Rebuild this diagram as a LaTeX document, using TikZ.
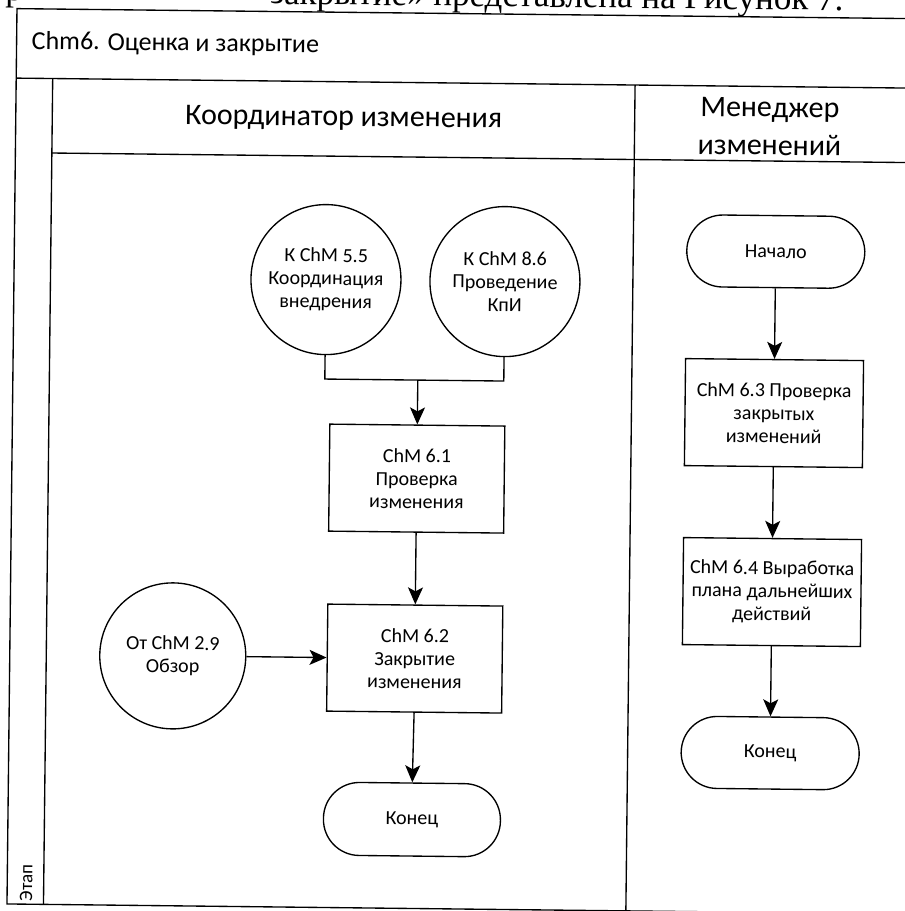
\documentclass[tikz,border=0pt]{standalone}
\usepackage{fontspec}
\setmainfont{Carlito}
\newfontfamily\bodyserif{Liberation Serif}
\usetikzlibrary{arrows.meta}
\begin{document}
\begin{tikzpicture}[x=1pt,y=-1pt,
  frame/.style={line width=1.35pt},
  nodefont/.style={font=\fontsize{20}{23}\selectfont},
  procbox/.style={draw, line width=1.35pt, rectangle, minimum width=175pt,
    minimum height=107pt, align=center, inner sep=2pt, nodefont},
  termbox/.style={draw, line width=1.35pt, rectangle, rounded corners=36pt,
    minimum width=178pt, minimum height=72pt, nodefont},
  refcirc/.style={draw, line width=1.35pt, circle, minimum size=150pt,
    inner sep=0pt, align=center, nodefont},
  flow/.style={line width=1.35pt, -{Stealth[length=17pt,width=15pt,inset=4pt]}},
  link/.style={line width=1.35pt}]
\useasboundingbox (0,0) rectangle (905,911);
\begin{scope}[rotate around={-0.64:(452.5,455.5)}, transform shape]
  % running text line above the figure
  \node[anchor=base west, inner sep=0pt, font=\bodyserif\fontsize{35}{40}\selectfont]
    (leadA) at (0,6) {р};
  \node[anchor=base west, inner sep=0pt, font=\bodyserif\fontsize{35}{40}\selectfont]
    (leadB) at (265,6) {закрытие» представлена на Рисунок 7.};

  % pool frame, title band and lanes
  \coordinate (tl) at (12,13.5);
  \coordinate (tr) at (930,13.5);
  \coordinate (bl) at (12,909);
  \coordinate (br) at (930,909);
  \draw[frame] (tr) -- (tl) -- (bl) -- (br);
  \coordinate (ttl) at (12,83);
  \coordinate (ttr) at (930,83);
  \draw[frame] (ttl) -- (ttr);
  \coordinate (phT) at (48.5,83);
  \coordinate (phB) at (48.5,909);
  \draw[frame] (phT) -- (phB);
  \coordinate (hdL) at (48.5,157.5);
  \coordinate (hdR) at (930,157.5);
  \draw[frame] (hdL) -- (hdR);
  \coordinate (lnT) at (631,83);
  \coordinate (lnB) at (631,909);
  \draw[frame] (lnT) -- (lnB);

  \node[anchor=west, inner sep=0pt, font=\fontsize{26}{30}\selectfont]
    (title) at (27,47) {Chm6. Оценка и закрытие};
  \node[font=\fontsize{30}{38}\selectfont] (laneA) at (340,120) {Координатор изменения};
  \node[font=\fontsize{30}{38}\selectfont, align=center] (laneB) at (766,123)
    {Менеджер\\изменений};
  \node[rotate=90, anchor=west, inner sep=0pt, font=\fontsize{19}{22}\selectfont]
    (phase) at (31,906) {Этап};

  % coordinator lane
  \node[refcirc] (c1) at (324,281) {К ChM 5.5\\Координация\\внедрения};
  \node[refcirc] (c2) at (503,281) {К ChM 8.6\\Проведение\\КпИ};
  \node[procbox] (b61) at (417,479) {ChM 6.1\\Проверка\\изменения};
  \node[procbox] (b62) at (417,659) {ChM 6.2\\Закрытие\\изменения};
  \node[refcirc, minimum size=146pt] (c3) at (175,659) {От ChM 2.9\\Обзор};
  \node[termbox, minimum width=177pt, minimum height=73pt] (e1) at (416,820) {Конец};

  \coordinate (jn) at (417,380.5);
  \draw[link] (c1.south) -- (c1.south |- jn) -- (c2.south |- jn) -- (c2.south);
  \draw[flow] (jn) -- (b61.north);
  \draw[flow] (b61.south) -- (b62.north);
  \draw[flow] (c3.east) -- (b62.west);
  \draw[flow] (b62.south) -- (e1.north);

  % manager lane
  \node[termbox] (s2) at (773.5,248) {Начало};
  \node[procbox, minimum width=178pt] (b63) at (773.5,409.5)
    {ChM 6.3 Проверка\\закрытых\\изменений};
  \node[procbox, minimum width=178pt] (b64) at (773.5,588.5)
    {ChM 6.4 Выработка\\плана дальнейших\\действий};
  \node[termbox] (e2) at (773.5,749.5) {Конец};

  \draw[flow] (s2.south) -- (b63.north);
  \draw[flow] (b63.south) -- (b64.north);
  \draw[flow] (b64.south) -- (e2.north);
\end{scope}
\end{tikzpicture}
\end{document}
